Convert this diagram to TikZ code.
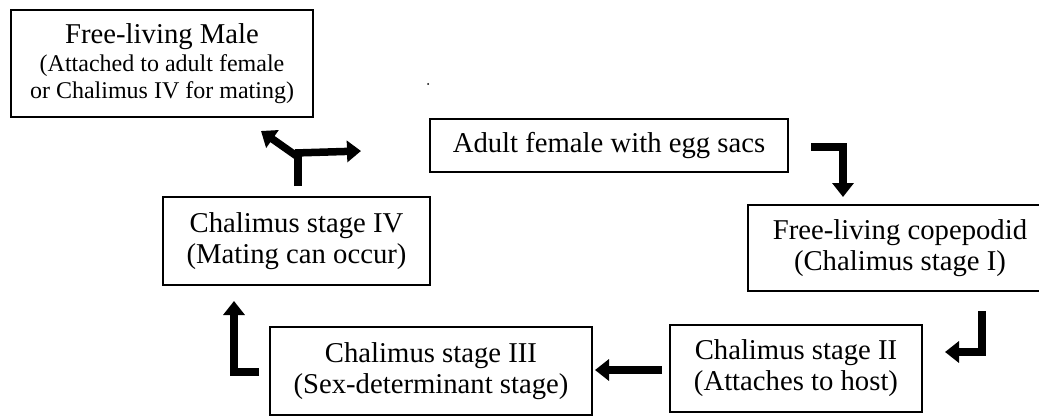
\documentclass[tikz,border=0pt]{standalone}
\usepackage{fontspec}
\setmainfont{Liberation Serif}
\usetikzlibrary{arrows.meta}
\begin{document}
\begin{tikzpicture}[x=1pt,y=-1pt,
  box/.style={draw,line width=1.3pt,rectangle,inner sep=0pt,align=center,
    font=\fontsize{28.7}{31}\selectfont},
  small/.style={},
  thick line/.style={line width=7.5pt,line join=miter},
  flow/.style={thick line,-{Triangle[width=21pt,length=14pt]}}]
\useasboundingbox (0,0) rectangle (1039,417);

\node[box,minimum width=302pt,minimum height=107pt] (male) at (162,63.5)
  {Free-living Male\\[-3pt]{\fontsize{24}{25}\selectfont (Attached to adult female}\\[-4pt]{\fontsize{24}{25}\selectfont or Chalimus IV for mating)}};
\node[box,minimum width=358pt,minimum height=53pt] (adult) at (609,145.5)
  {Adult female with egg sacs};
\node[box,minimum width=304pt,minimum height=86pt] (cope) at (900,248)
  {Free-living copepodid\\(Chalimus stage I)};
\node[box,minimum width=252pt,minimum height=87pt] (c2) at (796,368.5)
  {Chalimus stage II\\(Attaches to host)};
\node[box,minimum width=322pt,minimum height=88pt] (c3) at (431,371)
  {Chalimus stage III\\(Sex-determinant stage)};
\node[box,minimum width=267pt,minimum height=88pt] (c4) at (296.5,241)
  {Chalimus stage IV\\(Mating can occur)};

\fill (428,84) circle (1);

% arrows
\coordinate (a1s) at (811,147);
\coordinate (a1e) at (843,197);
\draw[flow] (a1s) -| (a1e);

\coordinate (a2s) at (982,311);
\coordinate (a2e) at (945,352);
\draw[flow] (a2s) |- (a2e);

\coordinate (a3s) at (662,370);
\coordinate (a3e) at (595,370);
\draw[flow] (a3s) -- (a3e);

\coordinate (a4s) at (259,372);
\coordinate (a4e) at (234,301);
\draw[flow] (a4s) -| (a4e);

\coordinate (a5s) at (298,186);
\coordinate (a5j) at (298,153);
\coordinate (a5l) at (261,131);
\coordinate (a5r) at (361,151);
\draw[thick line] (a5s) -- (a5j);
\draw[flow] ([yshift=-4pt]a5j) -- (a5l);
\draw[flow] ([xshift=-3pt]a5j) -- (a5r);
\end{tikzpicture}
\end{document}
